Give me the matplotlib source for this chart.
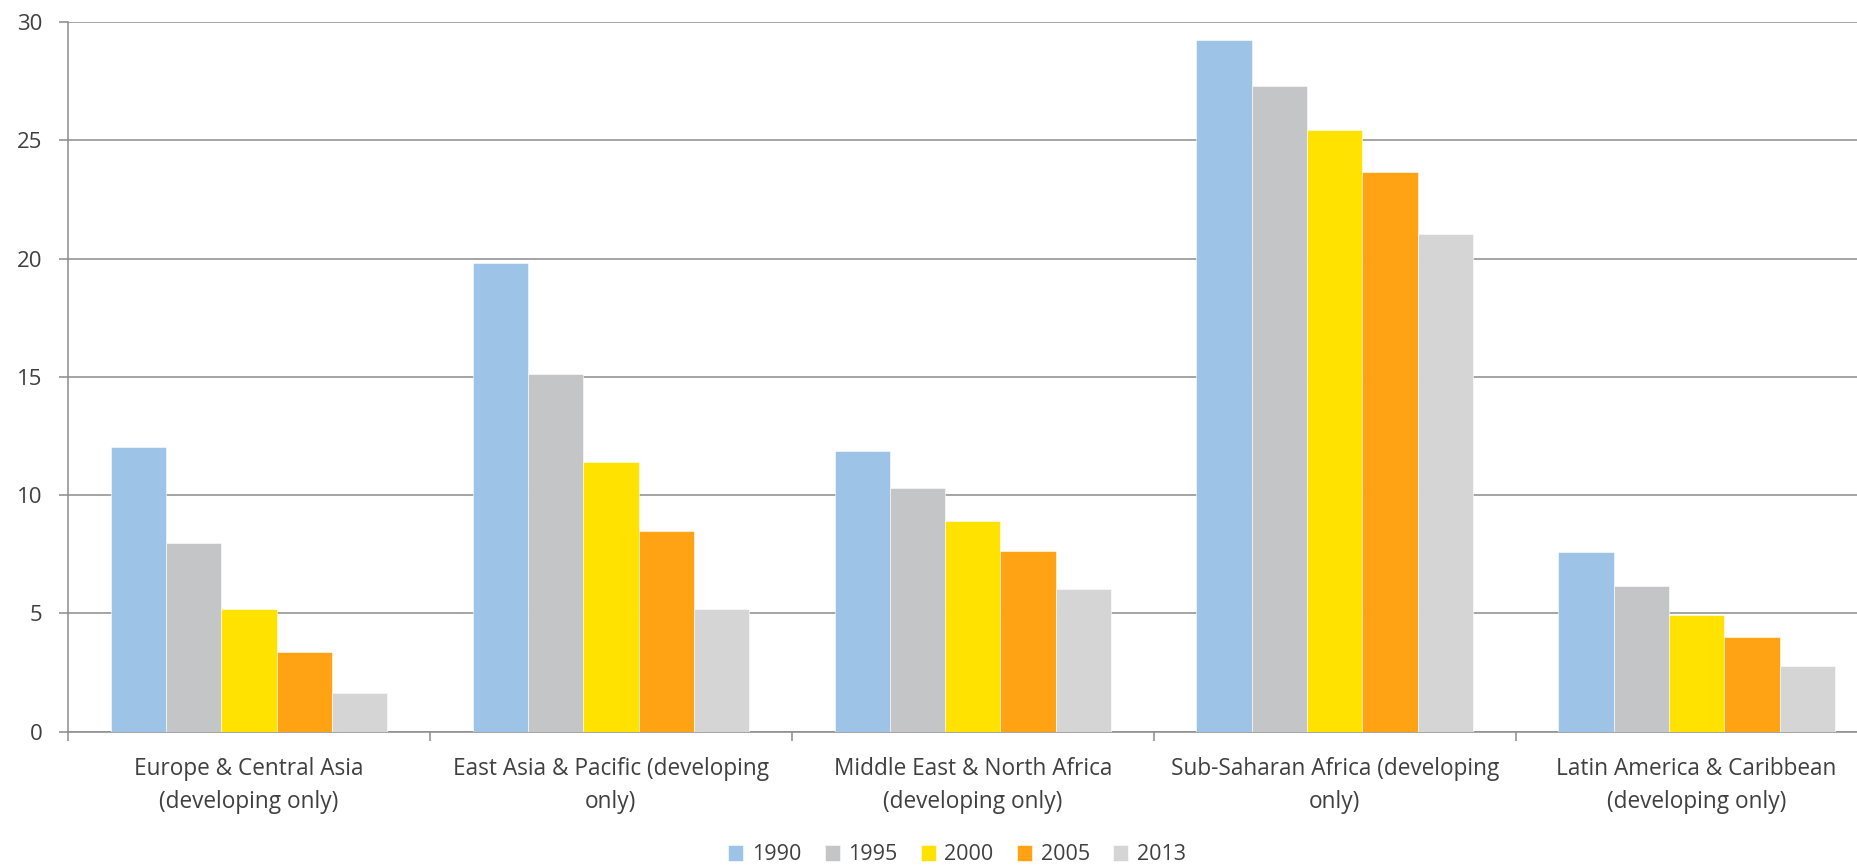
import matplotlib
matplotlib.use("Agg")
import matplotlib.pyplot as plt
import numpy as np

regions = [
    "Europe & Central Asia\n(developing only)",
    "East Asia & Pacific (developing\nonly)",
    "Middle East & North Africa\n(developing only)",
    "Sub-Saharan Africa (developing\nonly)",
    "Latin America & Caribbean\n(developing only)",
]
years = ["1990", "1995", "2000", "2005", "2013"]
v1990 = [12.05, 19.8, 11.85, 29.22, 7.61]
v1995 = [7.98, 15.1, 10.3, 27.29, 6.16]
v2000 = [5.2, 11.4, 8.9, 25.43, 4.95]
v2005 = [3.36, 8.47, 7.65, 23.66, 3.99]
v2013 = [1.64, 5.2, 6.05, 21.02, 2.79]
colors = ["#9DC3E6", "#C4C5C7", "#FFE200", "#FFA214", "#D5D5D5"]

plt.rcParams["font.family"] = ["Open Sans", "DejaVu Sans"]
text_col = "#404040"
line_col = "#8C8C8C"

fig = plt.figure(figsize=(18.57, 8.65), dpi=100)
ax = fig.add_axes([0.0366, 0.1541, 0.9745, 0.8205])

x = np.arange(len(regions))
w = 0.1528
series = [v1990, v1995, v2000, v2005, v2013]
for i, (vals, yr, c) in enumerate(zip(series, years, colors)):
    ax.bar(x + (i - 2) * w, vals, width=w, color=c, label=yr,
           edgecolor="white", linewidth=0.4, zorder=3)

ax.set_xlim(-0.5, 4.5)
ax.set_ylim(0, 30)
ax.set_yticks(range(0, 31, 5))
ax.yaxis.grid(True, color=line_col, linewidth=1.1, zorder=0)

ax.set_xticks(x)
ax.set_xticklabels(regions, fontsize=16.3, color=text_col, linespacing=1.5)
ax.set_xticks(np.arange(-0.5, 5.0, 1.0), minor=True)
ax.tick_params(axis="x", which="major", length=0, pad=18)
ax.tick_params(axis="x", which="minor", length=6.5, width=1.1, color=line_col)
ax.tick_params(axis="y", length=6.5, width=1.1, color=line_col, pad=12,
               labelsize=16, labelcolor=text_col)

for s in ["top", "right"]:
    ax.spines[s].set_visible(False)
for s in ["left", "bottom"]:
    ax.spines[s].set_color(line_col)
    ax.spines[s].set_linewidth(1.1)

fig.legend(loc="center", bbox_to_anchor=(957 / 1857, 1 - 855 / 865), ncol=5,
           frameon=False, fontsize=15.5, labelcolor=text_col,
           handlelength=0.7, handleheight=0.7, handletextpad=0.4,
           columnspacing=1.08)

fig.savefig("out.png", dpi=100)
